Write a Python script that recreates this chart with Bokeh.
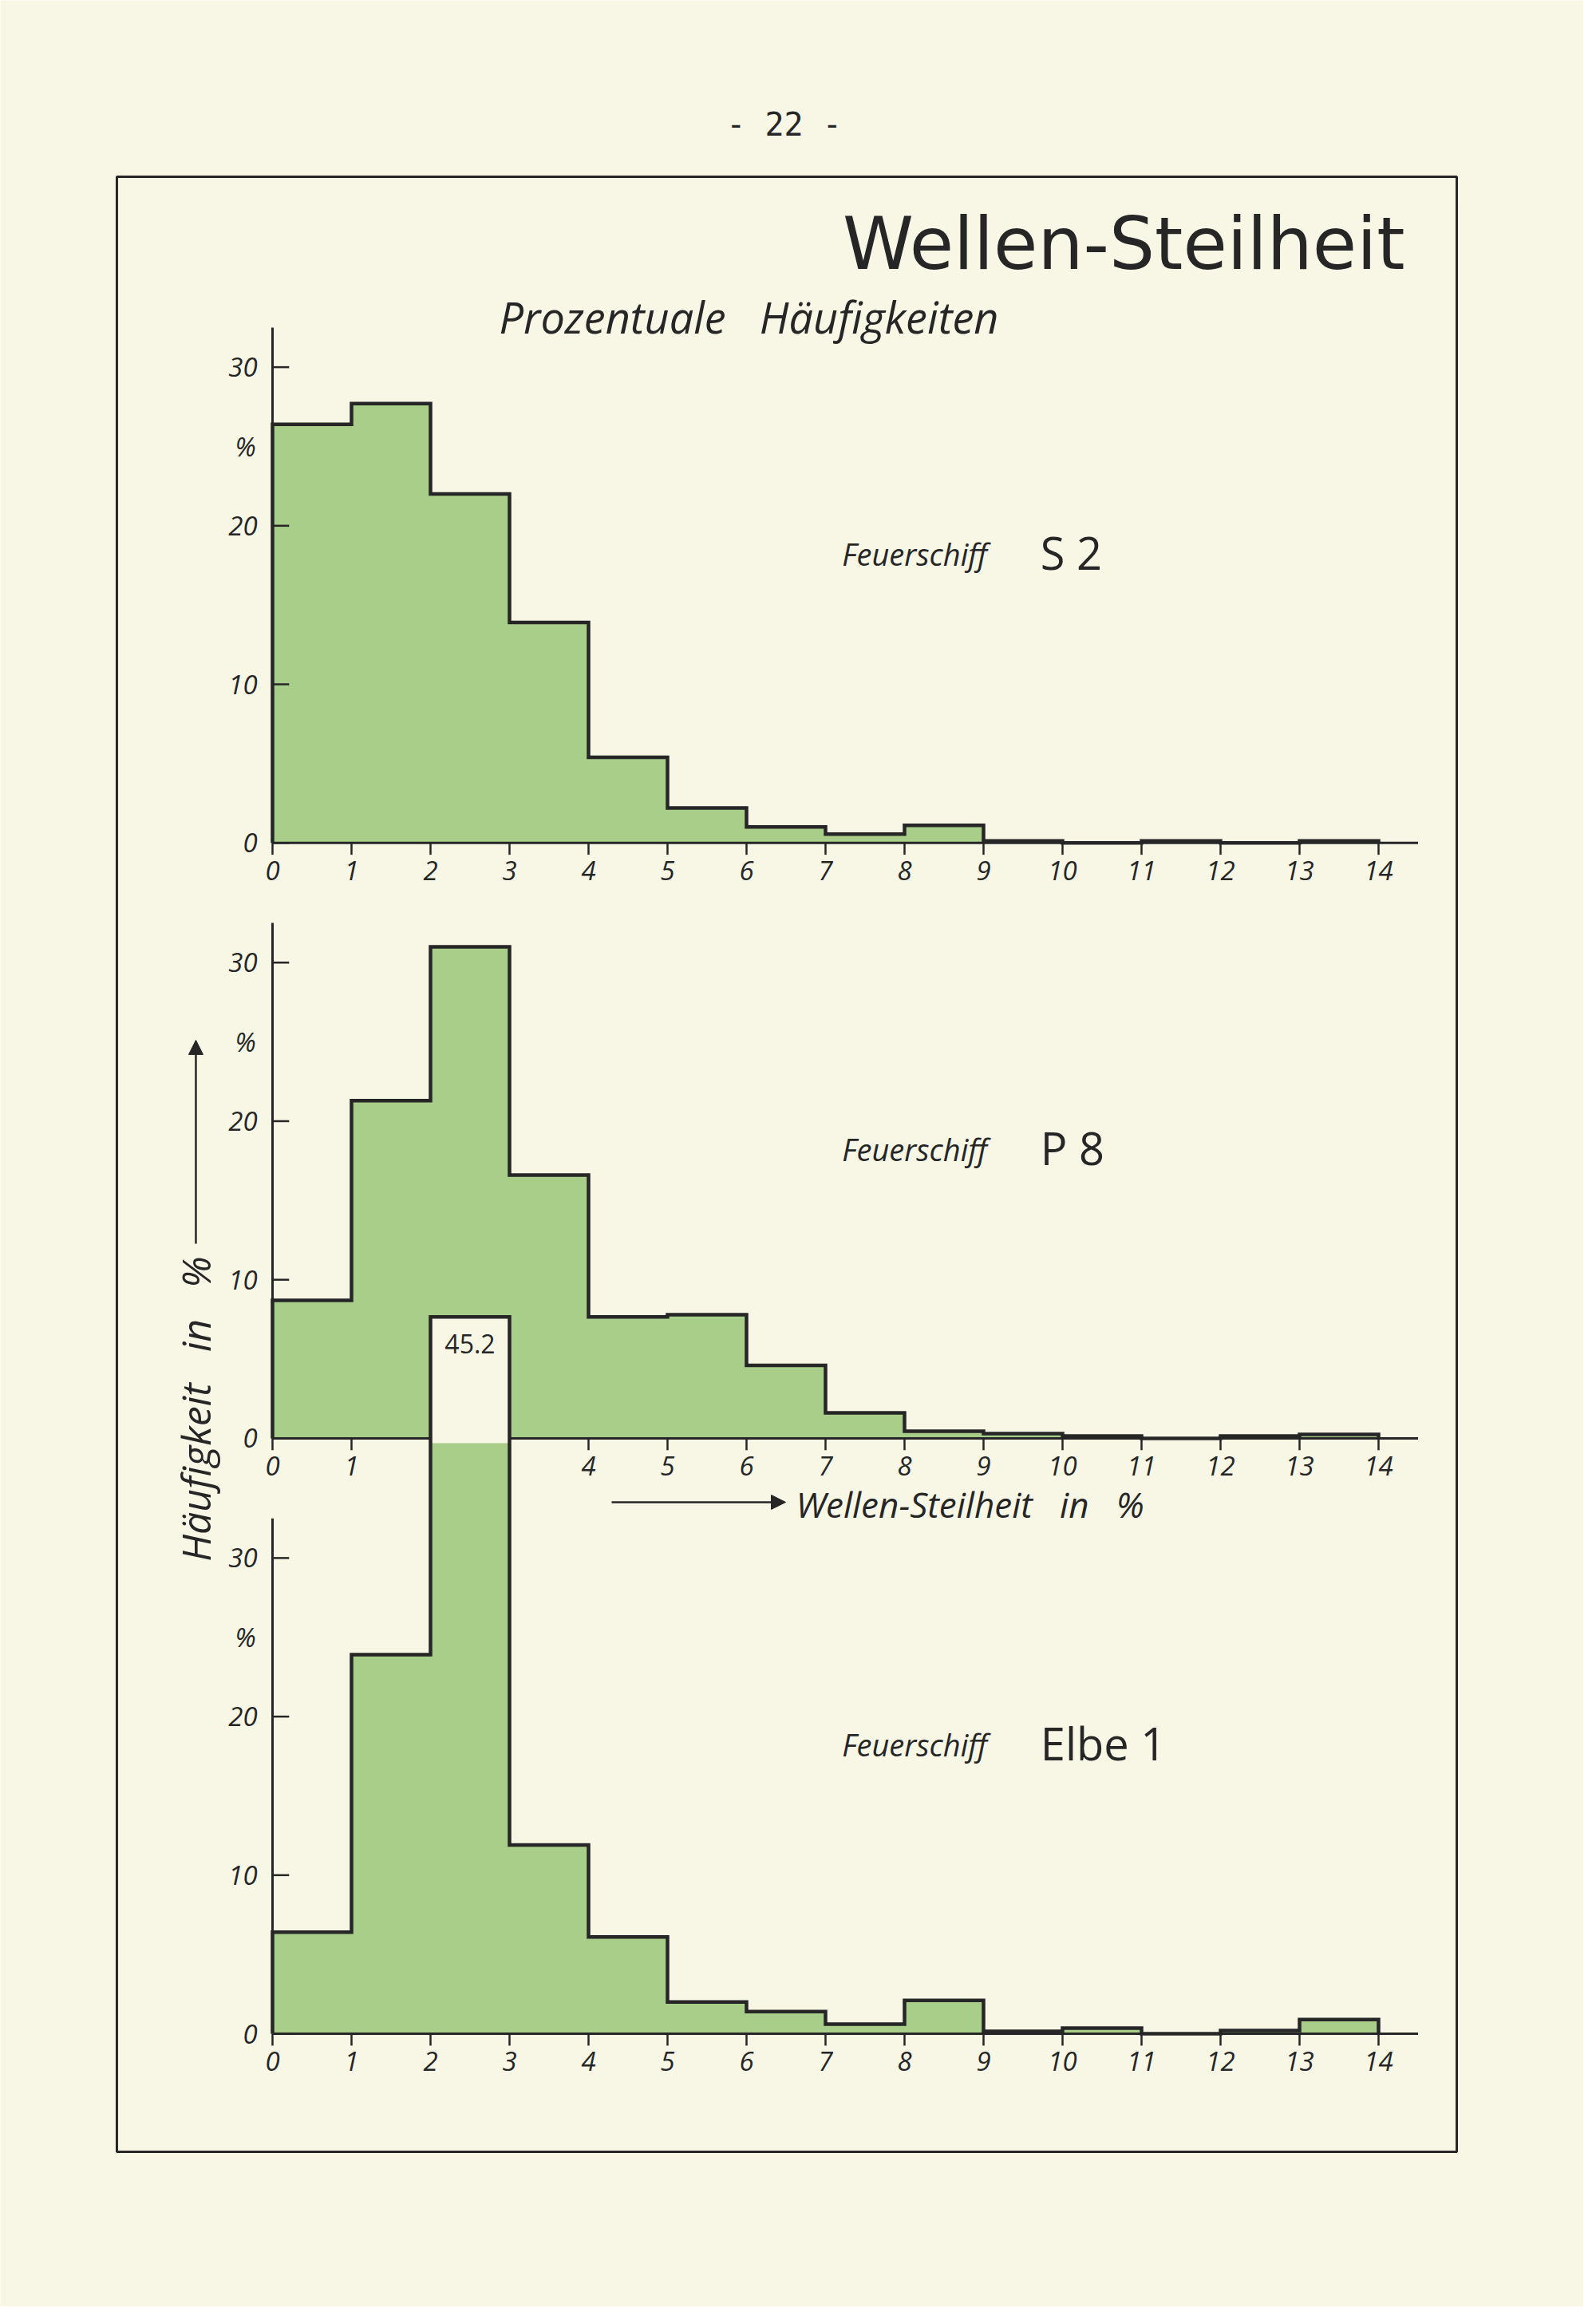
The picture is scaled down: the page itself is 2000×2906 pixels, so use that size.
from bokeh.plotting import figure
from bokeh.models import Range1d, Arrow, NormalHead
from bokeh.core.properties import value
from bokeh.embed import file_html
from bokeh.resources import INLINE

# wave steepness classes (in %), bin edges 0..14
edges = list(range(15))
tick_labels = [str(e) for e in edges]

# percentage frequencies per light vessel
s2 = [26.4, 27.7, 22.0, 13.9, 5.4, 2.2, 1.0, 0.55, 1.1, 0.12, 0.0, 0.12, 0.0, 0.12]
p8 = [8.7, 21.3, 31.0, 16.6, 7.65, 7.8, 4.6, 1.6, 0.45, 0.3, 0.15, 0.0, 0.15, 0.25]
elbe1 = [6.4, 23.9, 45.2, 11.9, 6.1, 2.0, 1.4, 0.6, 2.1, 0.15, 0.35, 0.0, 0.2, 0.9]

names = ["S 2", "P 8", "Elbe 1"]
series = [s2, p8, elbe1]
y_ticks = [0, 10, 20, 30]
hidden_x_labels = {"P 8": [2, 3]}   # covered by the Elbe 1 column

# layout (all panels share one figure, stacked with an offset)
STEP = 37.55
bases = [2 * STEP, STEP, 0.0]
GAP = 0.3
GREEN = "#a8ce89"
BG = "#f8f7e6"
INK = "#262626"
HAND = value("Open Sans")
SP = "\u00a0"   # svg collapses plain spaces

p = figure(width=1984, height=2890,
           x_range=Range1d(-3.4444, 16.596), y_range=Range1d(-17.21, 128.23),
           output_backend="svg", toolbar_location=None, min_border=0,
           x_axis_location=None, y_axis_location=None,
           background_fill_color=BG, border_fill_color=BG, outline_line_color=None)
p.grid.visible = False

# outer frame
p.quad(left=[-1.97], right=[14.99], bottom=[-7.45], top=[117.11],
       fill_color=None, line_color=INK, line_width=3)

# bar fills (one stepped area per panel, so no seams between bins)
lefts = edges[:-1]
rights = edges[1:]
for vals, base in zip(series, bases):
    tops = [base + min(v, STEP - GAP) for v in vals]
    p.varea_step(x=edges, y1=[base] * len(edges), y2=tops + [tops[-1]],
                 step_mode="after", fill_color=GREEN)

# axes, ticks, tick labels
for name, base in zip(names, bases):
    p.segment(x0=[0], y0=[base], x1=[14.5], y1=[base], line_color=INK, line_width=3)
    p.segment(x0=[0], y0=[base], x1=[0], y1=[base + 32.5], line_color=INK, line_width=3)
    p.segment(x0=edges, y0=[base] * len(edges), x1=edges, y1=[base - 0.75] * len(edges),
              line_color=INK, line_width=2.5)
    p.segment(x0=[0] * len(y_ticks), y0=[base + t for t in y_ticks],
              x1=[0.21] * len(y_ticks), y1=[base + t for t in y_ticks],
              line_color=INK, line_width=2.5)
    skip = hidden_x_labels.get(name, [])
    xs = [e for e in edges if e not in skip]
    p.text(x=xs, y=[base - 1.15] * len(xs), text=[tick_labels[e] for e in xs],
           text_font=HAND, text_font_style="italic", text_font_size="33px",
           text_align="center", text_baseline="top", text_color=INK)
    p.text(x=[-0.19] * len(y_ticks), y=[base + t for t in y_ticks],
           text=[str(t) for t in y_ticks],
           text_font=HAND, text_font_style="italic", text_font_size="33px",
           text_align="right", text_baseline="middle", text_color=INK)
    p.text(x=[-0.21], y=[base + 25], text=["%"],
           text_font=HAND, text_font_style="italic", text_font_size="33px",
           text_align="right", text_baseline="middle", text_color=INK)
    p.text(x=[7.21], y=[base + 18.25], text=["Feuerschiff"],
           text_font=HAND, text_font_style="italic", text_font_size="38px",
           text_align="left", text_baseline="alphabetic", text_color=INK)
    p.text(x=[9.72], y=[base + 18.35], text=[name.replace(" ", SP)],
           text_font=HAND, text_font_size="56px",
           text_align="left", text_baseline="alphabetic", text_color=INK)

# part of a column that reaches into the panel above is shown white
for vals, base in zip(series, bases):
    for i, v in enumerate(vals):
        if v > STEP - GAP:
            p.quad(left=[lefts[i]], right=[rights[i]], bottom=[base + STEP - GAP],
                   top=[base + v], fill_color=BG, line_color=None)
            p.text(x=[(lefts[i] + rights[i]) / 2], y=[base + v - 1.7], text=[f"{v}"],
                   text_font=HAND, text_font_size="32px",
                   text_align="center", text_baseline="middle", text_color=INK)

# step outlines
for vals, base in zip(series, bases):
    xs, ys = [0], [base]
    for i, v in enumerate(vals):
        xs += [lefts[i], rights[i]]
        ys += [base + v, base + v]
    xs.append(rights[-1])
    ys.append(base)
    p.line(xs, ys, line_color=INK, line_width=4.5, line_join="miter")

# titles
p.text(x=[6.475], y=[120.38], text=["- 22 -"], text_font=value("DejaVu Sans Mono"),
       text_font_size="40px", text_align="center", text_baseline="middle", text_color=INK)
p.text(x=[14.333], y=[112.9], text=["Wellen-Steilheit"], text_font=value("DejaVu Sans"),
       text_font_size="90px", text_align="right", text_baseline="alphabetic", text_color=INK)
p.text(x=[2.869], y=[108.3], text=["Prozentuale" + SP * 3 + "Häufigkeiten"], text_font=HAND,
       text_font_style="italic", text_font_size="54px",
       text_align="left", text_baseline="alphabetic", text_color=INK)

# axis titles with arrows
p.text(x=[6.626], y=[33.4], text=["Wellen-Steilheit" + SP * 3 + "in" + SP * 3 + "%"],
       text_font=HAND, text_font_style="italic", text_font_size="44px",
       text_align="left", text_baseline="middle", text_color=INK)
p.add_layout(Arrow(end=NormalHead(size=18, fill_color=INK, line_color=INK),
                   x_start=4.293, y_start=33.52, x_end=6.495, y_end=33.52,
                   line_color=INK, line_width=2.5))
p.text(x=[-0.97], y=[39.4], text=["Häufigkeit" + SP * 3 + "in" + SP * 3 + "%"],
       text_font=HAND, text_font_style="italic", text_font_size="50px", angle=1.5708,
       text_align="center", text_baseline="middle", text_color=INK)
p.add_layout(Arrow(end=NormalHead(size=18, fill_color=INK, line_color=INK),
                   x_start=-0.97, y_start=49.82, x_end=-0.97, y_end=62.66,
                   line_color=INK, line_width=2.5))

html = file_html(p, INLINE)
html = html.replace("<body>", '<body style="background-color:%s;">' % BG, 1)
open("out.html", "w").write(html)
